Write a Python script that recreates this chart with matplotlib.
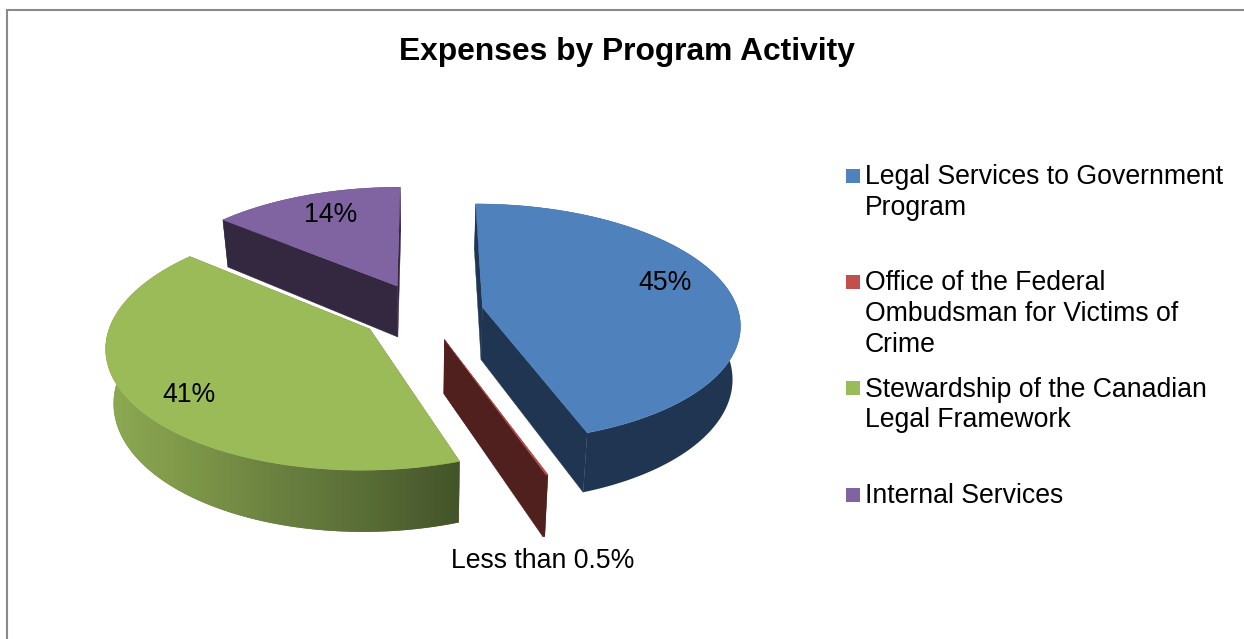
import numpy as np
import matplotlib
matplotlib.use('Agg')
import matplotlib.pyplot as plt
from matplotlib.colors import LinearSegmentedColormap
from matplotlib.patches import Polygon, Rectangle

plt.rcParams['font.family'] = ['Liberation Sans', 'DejaVu Sans']

# Dados do grafico
titulo = 'Expenses by Program Activity'
valores = [44.6, 0.1, 41.4, 13.9]
rotulos = ['45%', 'Less than 0.5%', '41%', '14%']
legenda = [
    ['Legal Services to Government', 'Program'],
    ['Office of the Federal', 'Ombudsman for Victims of', 'Crime'],
    ['Stewardship of the Canadian', 'Legal Framework'],
    ['Internal Services'],
]

# Estilo de cada fatia
cor_topo = ['#4F81BD', '#C0504D', '#9BBB59', '#8064A2']
cor_lado = ['#1F3552', '#4F201D', '#6A8040', '#33283F']
explosao = [0.235, 0.24, 0.25, 0.25]
pos_rotulos = [(665, 282), (543, 559), (189, 394), (331, 213)]
base_legenda = [184, 290, 397, 503]
passo_linha = [31, 31, 30, 31]
quadrado_legenda = [169, 275, 381, 488]

# Parametros da perspectiva, em pixels
cx, cy = 423.5, 312
raio = 256
achatamento = 118
fuga = 0.13
profundidade = 52.5
recuo_base = 0.975

gradiente_verde = LinearSegmentedColormap.from_list(
    'lado_verde', ['#8FAB54', '#7D9748', '#6A8040', '#586C36', '#43532A'])


def projetar(u, v, base=False):
    w = 1 - fuga * v
    x = raio * u / w
    y = achatamento * v / w
    if base:
        return cx + x * recuo_base, cy + y + profundidade / w
    return cx + x, cy + y


def borda(teta, du, dv, base=False):
    return projetar(du + np.sin(teta), dv - np.cos(teta), base)


fig = plt.figure(figsize=(12.44, 6.39), dpi=100)
ax = fig.add_axes([0, 0, 1, 1])
ax.axis('off')

# Moldura do grafico (so esquerda e topo aparecem)
ax.plot([7, 7, 1244], [639, 10, 10], color='#8A8A8A', lw=1.5, solid_joinstyle='miter', zorder=1)

limites = np.cumsum([0] + valores) / sum(valores) * 2 * np.pi

# Desenha de tras para a frente: roxo, azul, vermelho, verde
z = 2
for i in [3, 0, 1, 2]:
    t0, t1 = limites[i], limites[i + 1]
    meio = (t0 + t1) / 2
    du = explosao[i] * np.sin(meio)
    dv = -explosao[i] * np.cos(meio)
    apice = projetar(du, dv)
    apice_b = projetar(du, dv, True)

    # Faces de corte
    for t in (t0, t1):
        face = [apice, borda(t, du, dv), borda(t, du, dv, True), apice_b]
        ax.add_patch(Polygon(face, facecolor=cor_lado[i], edgecolor=cor_lado[i], lw=0.3, zorder=z))
    z += 1

    # Lateral curva
    angulos = np.linspace(t0, t1, max(3, int(np.degrees(t1 - t0))))
    cima = [borda(a, du, dv) for a in angulos]
    baixo = [borda(a, du, dv, True) for a in angulos[::-1]]
    lateral = Polygon(cima + baixo, facecolor=cor_lado[i], edgecolor='none', zorder=z)
    ax.add_patch(lateral)
    z += 1

    # Verde tem degrade da esquerda para a direita
    if i == 2:
        faixa = np.linspace(0, 1, 256).reshape(1, -1)
        img = ax.imshow(faixa, cmap=gradiente_verde, extent=(100, 462, 540, 330), aspect='auto', zorder=z)
        z += 1
        img.set_clip_path(lateral)

    # Topo da fatia
    topo = [apice] + [borda(a, du, dv) for a in angulos]
    ax.add_patch(Polygon(topo, facecolor=cor_topo[i], edgecolor=cor_topo[i], lw=0.3, zorder=z))
    z += 1

ax.set_xlim(0, 1244)
ax.set_ylim(639, 0)

for texto, (x, y) in zip(rotulos, pos_rotulos):
    ax.text(x, y + 1.5, texto, fontsize=19.2, color='black', ha='center', va='center', zorder=z)

ax.text(627, 52, titulo, fontsize=22.9, fontweight='bold', color='black', ha='center', va='center')

# Legenda
for linhas, base, passo, topo_q, cor in zip(legenda, base_legenda, passo_linha, quadrado_legenda, cor_topo):
    ax.add_patch(Rectangle((846, topo_q), 14, 14, facecolor=cor, edgecolor='none'))
    for j, linha in enumerate(linhas):
        ax.text(865, base + j * passo, linha, fontsize=19.2, color='black', ha='left', va='baseline')

fig.savefig('out.png', dpi=100)
